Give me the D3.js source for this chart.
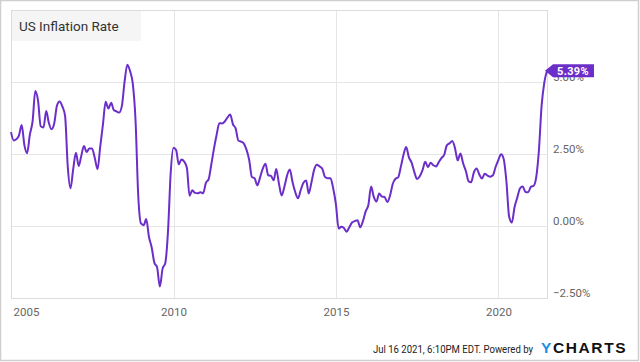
<!DOCTYPE html>
<html>
<head>
<meta charset="utf-8">
<script src="https://cdn.jsdelivr.net/npm/d3@7"></script>
<style>
  body { margin: 0; background: #fff; }
  svg { display: block; font-family: Roboto, "Noto Sans", sans-serif; }
</style>
</head>
<body>
<svg width="640" height="362"></svg>
<script>
// monthly US CPI YoY (%), Dec 2004 .. Jun 2021
const firstMonth = [2004, 11]
const rate2004 = [3.26]
const rate2005 = [2.97, 3.01, 3.15, 3.51, 2.80, 2.53, 3.17, 3.64, 4.69, 4.35, 3.46, 3.42]
const rate2006 = [3.99, 3.60, 3.36, 3.55, 4.17, 4.32, 4.15, 3.82, 2.06, 1.31, 1.97, 2.54]
const rate2007 = [2.08, 2.42, 2.78, 2.57, 2.69, 2.69, 2.36, 1.97, 2.76, 3.54, 4.31, 4.08]
const rate2008 = [4.28, 4.03, 3.98, 3.94, 4.18, 5.02, 5.60, 5.37, 4.94, 3.66, 1.07, 0.09]
const rate2009 = [0.03, 0.24, -0.38, -0.74, -1.28, -1.43, -2.10, -1.48, -1.29, -0.18, 1.84, 2.72]
const rate2010 = [2.63, 2.14, 2.31, 2.24, 2.02, 1.05, 1.24, 1.15, 1.14, 1.17, 1.14, 1.50]
const rate2011 = [1.63, 2.11, 2.68, 3.16, 3.57, 3.56, 3.63, 3.77, 3.87, 3.53, 3.39, 2.96]
const rate2012 = [2.93, 2.87, 2.65, 2.30, 1.70, 1.66, 1.41, 1.69, 1.99, 2.16, 1.76, 1.74]
const rate2013 = [1.59, 1.98, 1.47, 1.06, 1.36, 1.75, 1.96, 1.52, 1.18, 0.96, 1.24, 1.50]
const rate2014 = [1.58, 1.13, 1.51, 1.95, 2.13, 2.07, 1.99, 1.70, 1.66, 1.66, 1.32, 0.76]
const rate2015 = [-0.09, -0.03, -0.07, -0.20, -0.04, 0.12, 0.17, 0.20, -0.04, 0.17, 0.50, 0.73]
const rate2016 = [1.37, 1.02, 0.85, 1.13, 1.02, 1.01, 0.83, 1.06, 1.46, 1.64, 1.69, 2.07]
const rate2017 = [2.50, 2.74, 2.38, 2.20, 1.87, 1.63, 1.73, 1.94, 2.23, 2.04, 2.20, 2.11]
const rate2018 = [2.07, 2.21, 2.36, 2.46, 2.80, 2.87, 2.95, 2.70, 2.28, 2.52, 2.18, 1.91]
const rate2019 = [1.55, 1.52, 1.86, 2.00, 1.79, 1.65, 1.81, 1.75, 1.71, 1.76, 2.05, 2.29]
const rate2020 = [2.49, 2.33, 1.54, 0.33, 0.12, 0.65, 0.99, 1.31, 1.37, 1.18, 1.17, 1.36]
const rate2021 = [1.40, 1.68, 2.62, 4.16, 4.99, 5.39]

const xTickYears = [2005, 2010, 2015, 2020]
const yTicks = [-2.5, 0, 2.5, 5]
const yDomain = [-2.5, 7.5]
const titleText = 'US Inflation Rate'
const footerText = 'Jul 16 2021, 6:10PM EDT.  Powered by'

const values = [].concat(rate2004, rate2005, rate2006, rate2007, rate2008, rate2009, rate2010,
  rate2011, rate2012, rate2013, rate2014, rate2015, rate2016, rate2017, rate2018, rate2019,
  rate2020, rate2021)
const monthStart = new Date(firstMonth[0], firstMonth[1], 1)
// month-end dates
const data = values.map((v, i) => ({
  date: d3.timeDay.offset(d3.timeMonth.offset(monthStart, i + 1), -1),
  value: v
}))

const purple = '#6c2ec9'
const svg = d3.select('svg')
const plot = {left: 11, top: 10, right: 547, bottom: 298}

// outer frame
svg.append('rect')
  .attr('x', 0.5).attr('y', 0.5).attr('width', 638).attr('height', 360)
  .attr('fill', '#fff').attr('stroke', '#cfcfcf').attr('stroke-width', 1.5)

const x = d3.scaleTime()
  .domain(d3.extent(data, d => d.date))
  .range([plot.left, plot.right])
const y = d3.scaleLinear()
  .domain(yDomain)
  .range([plot.bottom, plot.top])

const g = svg.append('g')

// gridlines
g.append('g').selectAll('line.h')
  .data(yTicks)
  .enter().append('line')
    .attr('x1', plot.left).attr('x2', plot.right)
    .attr('y1', d => Math.round(y(d)) + 0.5).attr('y2', d => Math.round(y(d)) + 0.5)
    .attr('stroke', '#e6e6e6')

g.append('g').selectAll('line.v')
  .data(xTickYears)
  .enter().append('line')
    .attr('x1', d => Math.round(x(new Date(d, 0, 1))) + 0.5)
    .attr('x2', d => Math.round(x(new Date(d, 0, 1))) + 0.5)
    .attr('y1', plot.top).attr('y2', plot.bottom)
    .attr('stroke', '#e6e6e6')

// plot frame
g.append('rect')
  .attr('x', plot.left + 0.5).attr('y', plot.top + 0.5)
  .attr('width', plot.right - plot.left).attr('height', plot.bottom - plot.top)
  .attr('fill', 'none').attr('stroke', '#dcdcdc')

// title box
g.append('rect')
  .attr('x', plot.left + 1).attr('y', plot.top + 1)
  .attr('width', 129).attr('height', 30)
  .attr('fill', '#f5f5f5')
g.append('text')
  .attr('x', 19).attr('y', 31)
  .attr('font-size', 13.5)
  .attr('fill', '#333')
  .text(titleText)

// x axis labels
const xAxis = d3.axisBottom(x)
  .tickValues(xTickYears.map(d => new Date(d, 0, 1)))
  .tickFormat(d3.timeFormat('%Y'))
  .tickSize(0)
  .tickPadding(0)
const xa = svg.append('g')
  .attr('transform', 'translate(0,' + 305 + ')')
  .call(xAxis)
xa.select('.domain').remove()
xa.selectAll('text')
  .attr('font-family', 'Roboto, sans-serif')
  .attr('font-size', 11.5)
  .attr('fill', '#666')
  .attr('dy', '0.95em')
  .each(function (d, i) {
    // first label is kept inside the plot
    if (x(d) - 12 < plot.left) {
      d3.select(this).attr('text-anchor', 'start').attr('x', plot.left + 2 - x(d))
    }
  })

// y axis labels
const yAxis = d3.axisRight(y)
  .tickValues(yTicks)
  .tickFormat(d => d3.format('.2f')(d) + '%')
  .tickSize(0)
  .tickPadding(0)
const ya = svg.append('g')
  .attr('transform', 'translate(553,0)')
  .call(yAxis)
ya.select('.domain').remove()
ya.selectAll('text')
  .attr('font-family', 'Roboto, sans-serif')
  .attr('font-size', 11.5)
  .attr('fill', '#666')
  .attr('dy', '-0.15em')
  .attr('text-anchor', 'start')

// the series line
const line = d3.line()
  .x(d => x(d.date))
  .y(d => y(d.value))
  .curve(d3.curveMonotoneX)

g.append('path')
  .datum(data)
  .attr('d', line)
  .attr('fill', 'none')
  .attr('stroke', purple)
  .attr('stroke-width', 2)
  .attr('stroke-linejoin', 'round')

// last value badge
const last = data[data.length - 1]
const bx = x(last.date) - 2
const by = y(last.value)
svg.append('path')
  .attr('d', 'M' + bx + ',' + by + 'L' + (bx + 8) + ',' + (by - 6.5) + 'H' + (bx + 49) +
    'V' + (by + 6.5) + 'H' + (bx + 8) + 'Z')
  .attr('fill', purple)
svg.append('text')
  .attr('x', bx + 28).attr('y', by + 4)
  .attr('text-anchor', 'middle')
  .attr('font-size', 11)
  .attr('font-weight', 'bold')
  .attr('fill', '#fff')
  .attr('letter-spacing', 0.3)
  .text(d3.format('.2f')(last.value) + '%')

// footer
svg.append('text')
  .attr('x', 373).attr('y', 353)
  .attr('font-size', 10)
  .attr('fill', '#222')
  .attr('textLength', 160)
  .attr('lengthAdjust', 'spacingAndGlyphs')
  .text(footerText)

const logo = svg.append('text')
  .attr('x', 541).attr('y', 353)
  .attr('font-family', '"Liberation Sans", Arial, sans-serif')
  .attr('font-size', 15.5)
  .attr('font-weight', 'bold')
  .attr('letter-spacing', 1.6)
logo.append('tspan').attr('fill', '#1a8fe6').text('Y')
logo.append('tspan').attr('fill', '#111').text('CHARTS')
</script>
</body>
</html>
